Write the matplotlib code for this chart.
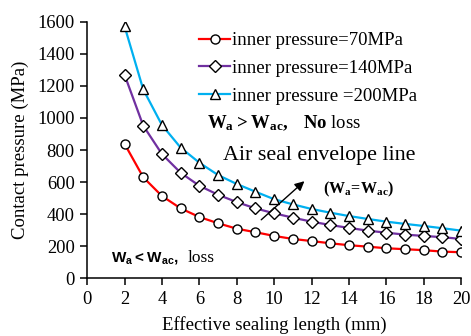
import numpy as np
import matplotlib
matplotlib.use('Agg')
import matplotlib.pyplot as plt

plt.rcParams['font.family'] = ['Liberation Serif', 'DejaVu Serif']
plt.rcParams['mathtext.fontset'] = 'custom'
plt.rcParams['mathtext.rm'] = 'Liberation Serif'
plt.rcParams['mathtext.bf'] = 'Liberation Serif:bold'
plt.rcParams['mathtext.sf'] = 'Liberation Sans:bold'

length = [2, 3, 4, 5, 6, 7, 8, 9, 10, 11, 12, 13, 14, 15, 16, 17, 18, 19, 20]
p70 = [839, 630, 513, 436, 382, 343, 309, 287, 264, 245, 232, 218, 206, 197, 187, 181, 175, 166, 162]
p140 = [1270, 952, 775, 658, 577, 521, 475, 436, 405, 378, 353, 332, 314, 297, 284, 272, 264, 256, 245]
p200 = [1573, 1178, 956, 815, 721, 644, 588, 540, 493, 461, 432, 409, 388, 370, 353, 339, 326, 312, 297]
labels = ['inner pressure=70MPa', 'inner pressure=140MPa', 'inner pressure =200MPa']

fig = plt.figure(figsize=(4.71, 3.36), dpi=100)
ax = fig.add_axes([0.185, 0.172, 0.794, 0.763])

mk = dict(markerfacecolor='white', markeredgecolor='black', markeredgewidth=1.0, linewidth=1.6)
ax.plot(length, p70, color='#ff0000', marker='o', markersize=6.5, label=labels[0], **mk)
ax.plot(length, p140, color='#7030a0', marker='D', markersize=6.3, label=labels[1], **mk)
ax.plot(length, p200, color='#00b0f0', marker='^', markersize=6.5, label=labels[2], **mk)

ax.set_xlim(0, 20)
ax.set_ylim(0, 1600)
ax.set_xticks(np.arange(0, 21, 2))
ax.set_yticks(np.arange(0, 1601, 200))
ax.spines['top'].set_visible(False)
ax.spines['right'].set_visible(False)
ax.spines['left'].set_linewidth(1.1)
ax.spines['bottom'].set_linewidth(1.1)
ax.tick_params(direction='out', length=5, width=1.1, labelsize=13.3, pad=4)
ax.set_xlabel('Effective sealing length (mm)', fontsize=13.5, labelpad=6)
ax.set_ylabel('Contact pressure (MPa)', fontsize=13.5, labelpad=6)

ax.legend(loc='upper left', bbox_to_anchor=(0.298, 0.96), frameon=False, fontsize=13.5,
          handlelength=1.7, handletextpad=0.1, labelspacing=0.57, borderaxespad=0,
          borderpad=0)

ax.text(6.4, 968, r'$\mathbf{W_a > W_{ac},\ \ No}$ loss', fontsize=13.5, va='center')
ax.text(7.25, 763, 'Air seal envelope line', fontsize=15.8, va='center')
ax.text(12.6, 557, r'$\mathbf{(W_a\!=\!W_{ac})}$', fontsize=11.5, va='center')
ax.annotate('', xy=(11.73, 617), xytext=(9.2, 353),
            arrowprops=dict(arrowstyle='-|>', color='black', lw=1.0, mutation_scale=14))
ax.text(1.3, 127, r'$\mathsf{W_a < W_{ac},}$', fontsize=11, va='center')
ax.text(5.4, 127, 'loss', fontsize=12.5, va='center')

fig.savefig('out.png', dpi=100)
